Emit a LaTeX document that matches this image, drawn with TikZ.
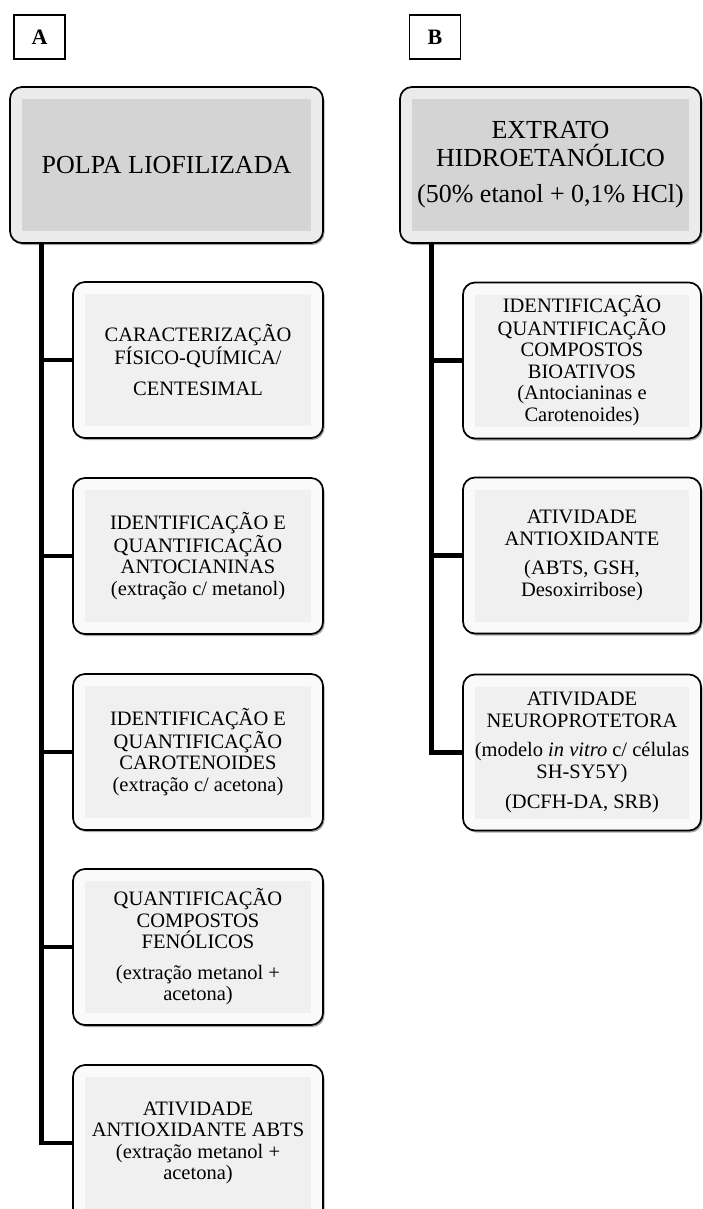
\documentclass[tikz,border=0pt]{standalone}
\usepackage{fontspec}
\setmainfont{Liberation Serif}
\usetikzlibrary{shadows}

\begin{document}
\begin{tikzpicture}
                            [x=1pt, y=-1pt,
                            panel/.style = {draw=black, line width=1.2pt,
                                        minimum width=51pt, minimum height=44pt,
                                        inner sep=0pt,
                                        font=\fontsize{22}{24}\selectfont\bfseries},
                            bevel/.style 2 args = {draw=black, line width=1.7pt,
                                        rounded corners=12pt, fill=#1,
                                        inner sep=0pt, align=center,
                                        drop shadow={shadow xshift=1.5pt, shadow yshift=-2pt, opacity=0.35, fill=black},
                                        path picture={\fill[#2, sharp corners] ([shift={(12pt,-12pt)}]path picture bounding box.north west) rectangle ([shift={(-12pt,12pt)}]path picture bounding box.south east);}},
                            rootbox/.style = {bevel={gray!16}{gray!34},
                                        minimum height=156pt,
                                        font=\fontsize{26}{28}\selectfont},
                            stepbox/.style = {bevel={gray!4}{gray!12},
                                        minimum width=250pt, minimum height=156pt,
                                        font=\fontsize{20.5}{21.5}\selectfont},
                            trunk/.style = {line width=4.5pt, line join=miter}]
                            \useasboundingbox (0,0) rectangle (702,1209);
                            % Rotulos dos paineis
                            \node[panel] (labA) at (39.5,37) {A};
                            \node[panel] (labB) at (435,37) {B};
                            % Polpa liofilizada
                            \node[rootbox, minimum width=313pt] (polpa) at (166.5,165) {POLPA LIOFILIZADA};
                            % Extrato hidroetanolico
                            \node[rootbox, minimum width=301pt] (extrato) at (550.5,165) {EXTRATO\\HIDROETANÓLICO\\[8pt](50\% etanol + 0,1\% HCl)};
                            % Analises da polpa
                            \node[stepbox] (carac) at (198,360) {CARACTERIZAÇÃO\\FÍSICO-QUÍMICA/\\[9pt]CENTESIMAL};
                            \node[stepbox] (antoc) at (198,556) {IDENTIFICAÇÃO E\\QUANTIFICAÇÃO\\ANTOCIANINAS\\(extração c/ metanol)};
                            \node[stepbox] (carot) at (198,752) {IDENTIFICAÇÃO E\\QUANTIFICAÇÃO\\CAROTENOIDES\\(extração c/ acetona)};
                            \node[stepbox] (fenol) at (198,947) {QUANTIFICAÇÃO\\COMPOSTOS\\FENÓLICOS\\[9pt](extração metanol +\\acetona)};
                            \node[stepbox] (abts) at (198,1143) {ATIVIDADE\\ANTIOXIDANTE ABTS\\(extração metanol +\\acetona)};
                            % Analises do extrato
                            \node[stepbox, minimum width=238pt] (bioat) at (582,360.5) {IDENTIFICAÇÃO\\QUANTIFICAÇÃO\\COMPOSTOS\\BIOATIVOS\\(Antocianinas e\\Carotenoides)};
                            \node[stepbox, minimum width=238pt] (antiox) at (582,555.5) {ATIVIDADE\\ANTIOXIDANTE\\[8pt](ABTS, GSH,\\Desoxirribose)};
                            \node[stepbox, minimum width=238pt] (neuro) at (582,752.5) {ATIVIDADE\\NEUROPROTETORA\\[8pt](modelo \textit{in vitro} c/ células\\SH-SY5Y)\\[9pt](DCFH-DA, SRB)};
                            % Ligacoes A
                            \draw[trunk] ([xshift=32.5pt]polpa.south west) |- (carac.west);
                            \draw[trunk] ([xshift=32.5pt]polpa.south west) |- (antoc.west);
                            \draw[trunk] ([xshift=32.5pt]polpa.south west) |- (carot.west);
                            \draw[trunk] ([xshift=32.5pt]polpa.south west) |- (fenol.west);
                            \draw[trunk] ([xshift=32.5pt]polpa.south west) |- (abts.west);
                            % Ligacoes B
                            \draw[trunk] ([xshift=32.5pt]extrato.south west) |- (bioat.west);
                            \draw[trunk] ([xshift=32.5pt]extrato.south west) |- (antiox.west);
                            \draw[trunk] ([xshift=32.5pt]extrato.south west) |- (neuro.west);
                        \end{tikzpicture}
\end{document}
